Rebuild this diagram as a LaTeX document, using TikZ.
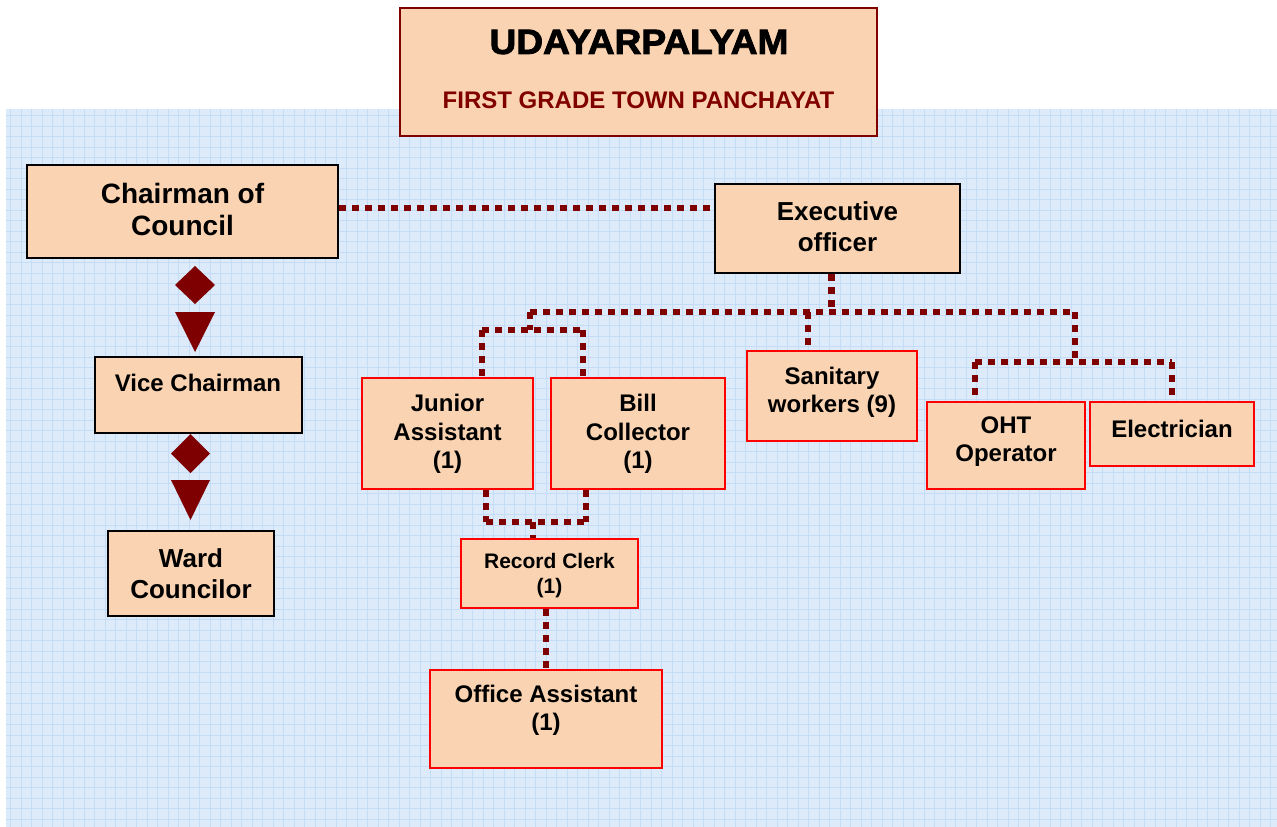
\documentclass[tikz,border=0pt]{standalone}
\usepackage{fontspec}
\setmainfont{Liberation Sans}
\newfontfamily\heavyfont[FakeBold=2.5,FakeStretch=1.06]{Liberation Sans Bold}
\definecolor{bgblue}{HTML}{DCEAFA}
\definecolor{gridblue}{HTML}{C4DCF6}
\definecolor{peach}{HTML}{FAD4B2}
\definecolor{darkred}{HTML}{800000}
\definecolor{conred}{HTML}{7F0000}
\definecolor{brightred}{HTML}{FF0000}
\tikzset{
  box/.style={draw, line width=2pt, fill=peach, inner sep=0pt},
  blackbox/.style={box, draw=black},
  redbox/.style={box, draw=brightred},
  titlebox/.style={box, draw=darkred},
  txt/.style={align=center, inner sep=0pt, font=\bfseries},
  conn/.style={draw=conred, line width=6.5pt, dash pattern=on 6.5pt off 6.5pt},
  tip/.style={fill=conred}
}
\newcommand{\fs}[2]{\fontsize{#1}{#2}\selectfont}
\begin{document}
\begin{tikzpicture}[x={(1pt,0)}, y={(0,-1pt)}]
\useasboundingbox (0,0) rectangle (1277,827);
% background grid
\fill[bgblue] (6,109) rectangle (1277,827);
\begin{scope}
\clip (6,109) rectangle (1277,827);
\draw[gridblue, line width=0.8pt, step=10.5pt] (0,109) grid (1277,827);
\end{scope}

% boxes
\node[titlebox, minimum width=477pt, minimum height=128pt] (title) at (638.5,72) {};
\node[txt, font=\heavyfont\fs{35}{38}] (t1) at (639,42) {UDAYARPALYAM};
\node[txt, text=darkred, font=\bfseries\fs{24}{28}] (t2) at (638.5,100) {FIRST GRADE TOWN PANCHAYAT};

\node[blackbox, minimum width=311pt, minimum height=93pt] (chair) at (182.5,211.5) {};
\node[txt, font=\bfseries\fs{28}{32}] (chairT) at (182.5,209) {Chairman of\\Council};

\node[blackbox, minimum width=245pt, minimum height=89pt] (exec) at (837.5,228.5) {};
\node[txt, font=\bfseries\fs{26}{31}] (execT) at (837.5,226.5) {Executive\\officer};

\node[blackbox, minimum width=207pt, minimum height=76pt] (vice) at (198.5,395) {};
\node[txt, font=\bfseries\fs{24}{28}] (viceT) at (198,383) {Vice Chairman};

\node[blackbox, minimum width=166pt, minimum height=85pt] (ward) at (191,573.5) {};
\node[txt, font=\bfseries\fs{26}{31}] (wardT) at (191,573.5) {Ward\\Councilor};

\node[redbox, minimum width=171pt, minimum height=111pt] (junior) at (447.5,433.5) {};
\node[txt, font=\bfseries\fs{24}{28.5}] (juniorT) at (447.5,434) {Junior\\Assistant\\(1)};

\node[redbox, minimum width=174pt, minimum height=111pt] (bill) at (638,433.5) {};
\node[txt, font=\bfseries\fs{24}{28.5}] (billT) at (638,434) {Bill\\Collector\\(1)};

\node[redbox, minimum width=170pt, minimum height=90pt] (sanit) at (832,396) {};
\node[txt, font=\bfseries\fs{24}{28}] (sanitT) at (832,392) {Sanitary\\workers (9)};

\node[redbox, minimum width=158pt, minimum height=87pt] (oht) at (1006,445.5) {};
\node[txt, font=\bfseries\fs{24}{28}] (ohtT) at (1006,442) {OHT\\Operator};

\node[redbox, minimum width=164pt, minimum height=64pt] (elec) at (1172,434) {};
\node[txt, font=\bfseries\fs{24}{28}] (elecT) at (1172,429) {Electrician};

\node[redbox, minimum width=177pt, minimum height=69pt] (record) at (549.5,573.5) {};
\node[txt, font=\bfseries\fs{21}{25}] (recordT) at (549.5,576) {Record Clerk\\(1)};

\node[redbox, minimum width=232pt, minimum height=98pt] (office) at (546,719) {};
\node[txt, font=\bfseries\fs{24}{28}] (officeT) at (546,710) {Office Assistant\\(1)};

% diamond / triangle markers
\fill[tip] (175,285) -- (195,266) -- (215,285) -- (195,304) -- cycle;
\fill[tip] (175,312) -- (215,312) -- (195,352) -- cycle;
\fill[tip] (171,453.5) -- (190.5,434) -- (210,453.5) -- (190.5,473) -- cycle;
\fill[tip] (171,480) -- (210,480) -- (190.5,520) -- cycle;

% connector coordinates
\coordinate (busL) at (530,312);
\coordinate (busR) at (1075,312);
\coordinate (jbL) at (482,330);
\coordinate (jbR) at (583,330);
\coordinate (obL) at (975,362);
\coordinate (obR) at (1172,362);
\coordinate (lbL) at (486,522);
\coordinate (lbR) at (586,522);
\coordinate (lbM) at (533,522);

% connectors
\draw[conn] ([yshift=3.5pt]chair.east) -- ([yshift=3.5pt]chair.east -| exec.west);
\draw[conn] ([xshift=-6pt]exec.south) -- ([xshift=-6pt]exec.south |- busL);
\draw[conn] (busL) -- (busR);
\draw[conn] (busL) -- (busL |- jbL);
\draw[conn] (jbL) -- (jbR);
\draw[conn] (jbL) -- (jbL |- junior.north);
\draw[conn] (jbR) -- (jbR |- bill.north);
\draw[conn] ([xshift=-24pt]sanit.north |- busL) -- ([xshift=-24pt]sanit.north);
\draw[conn] (busR) -- (busR |- obL);
\draw[conn] (obL) -- (obR);
\draw[conn] (obL) -- (obL |- oht.north);
\draw[conn] (obR) -- (elec.north);
\draw[conn] (lbL |- junior.south) -- (lbL);
\draw[conn] (lbR |- bill.south) -- (lbR);
\draw[conn] (lbL) -- (lbR);
\draw[conn] (lbM) -- (lbM |- record.north);
\draw[conn] ([xshift=-3.5pt]record.south) -- ([xshift=-3.5pt]record.south |- office.north);
\end{tikzpicture}
\end{document}
